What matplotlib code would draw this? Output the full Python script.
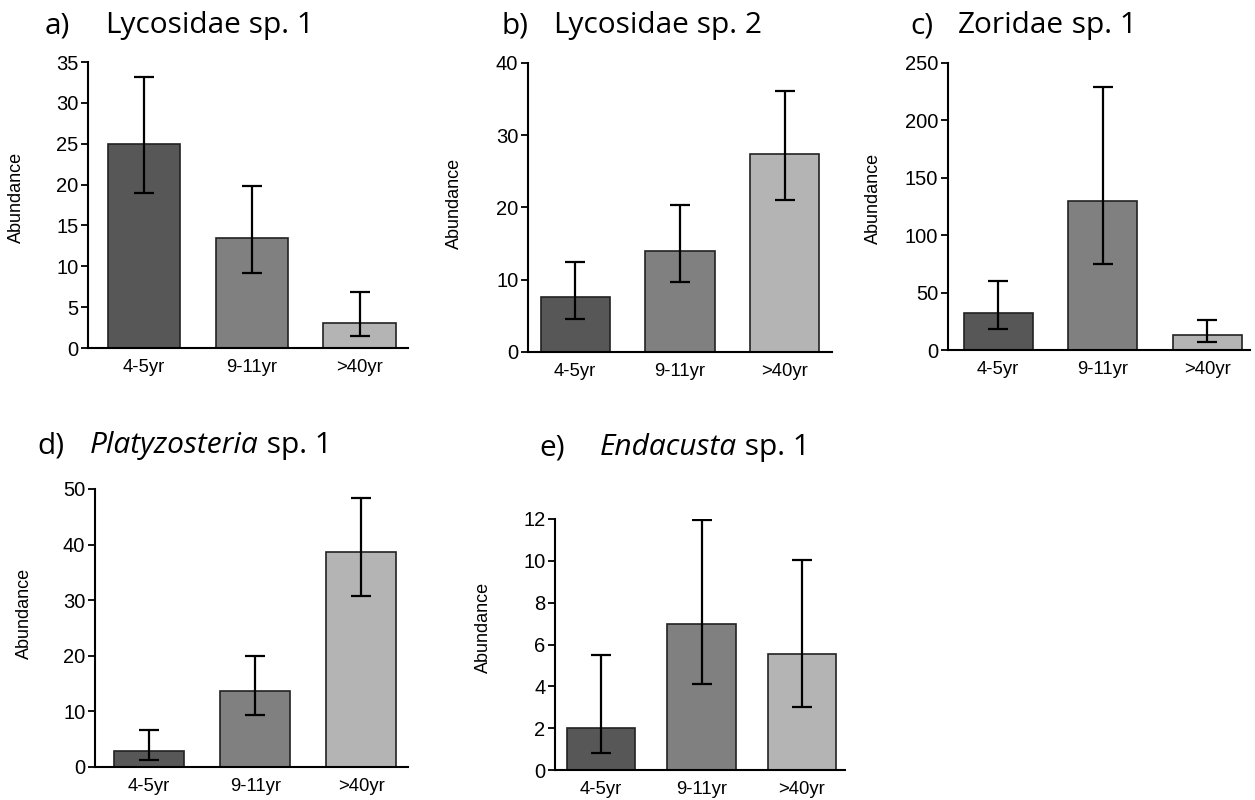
import matplotlib
matplotlib.use("Agg")
import matplotlib.pyplot as plt
import numpy as np

groups = ['4-5yr', '9-11yr', '>40yr']
colors = ['#575757', '#808080', '#b4b4b4']

# means and error bar ends (low, high)
lyc1_mean = [25, 13.5, 3]
lyc1_lo = [19, 9.2, 1.5]
lyc1_hi = [33.2, 19.8, 6.8]

lyc2_mean = [7.6, 14, 27.4]
lyc2_lo = [4.5, 9.7, 21]
lyc2_hi = [12.5, 20.4, 36.1]

zor_mean = [32, 130, 13]
zor_lo = [18, 75, 7]
zor_hi = [60, 229, 26]

plat_mean = [2.8, 13.6, 38.6]
plat_lo = [1.3, 9.3, 30.7]
plat_hi = [6.6, 19.9, 48.4]

enda_mean = [2, 7, 5.55]
enda_lo = [0.8, 4.1, 3.0]
enda_hi = [5.5, 11.95, 10.05]

W, H = 1255, 800
fig = plt.figure(figsize=(W / 100, H / 100), dpi=100)
tick_font = 'Liberation Sans'
title_font = 'Open Sans'


def panel(box, lab_xy, mean, lo, hi, ymax, yticks, xlim, width):
  left, right, bottom, top = box
  ax = fig.add_axes([left / W, 1 - bottom / H, (right - left) / W, (bottom - top) / H])
  x = np.arange(len(groups))
  mean = np.array(mean); lo = np.array(lo); hi = np.array(hi)
  ax.bar(x, mean, width, color=colors, edgecolor='#222222', linewidth=1.2, zorder=2)
  ax.errorbar(x, mean, yerr=[mean - lo, hi - mean], fmt='none', ecolor='black',
              elinewidth=1.6, capsize=7, capthick=1.6, zorder=3)
  ax.set_ylim(0, ymax); ax.set_xlim(*xlim)
  ax.set_yticks(yticks)
  ax.set_xticks(x); ax.set_xticklabels(groups)
  for s in ['top', 'right']:
    ax.spines[s].set_visible(False)
  for s in ['left', 'bottom']:
    ax.spines[s].set_linewidth(1.5)
  ax.tick_params(axis='y', length=5, width=1.3, labelsize=14.5, pad=2)
  ax.tick_params(axis='x', length=0, labelsize=13.3, pad=8)
  for t in ax.get_xticklabels() + ax.get_yticklabels():
    t.set_family(tick_font)
  ax.set_ylabel('Abundance', fontsize=13, family=tick_font)
  # put the y label where it sits in the original (pixel coords)
  lx, ly = lab_xy
  ax.yaxis.set_label_coords((lx - left) / (right - left), (bottom - ly) / (bottom - top))
  return ax


panel((88, 408, 348, 62), (25, 197), lyc1_mean, lyc1_lo, lyc1_hi, 35,
      range(0, 36, 5), (-0.52, 2.45), 0.67)
panel((528, 832, 352, 63), (463, 203), lyc2_mean, lyc2_lo, lyc2_hi, 40,
      range(0, 41, 10), (-0.45, 2.45), 0.66)
panel((948, 1250, 350, 63), (882, 198), zor_mean, zor_lo, zor_hi, 250,
      range(0, 251, 50), (-0.48, 2.41), 0.66)
panel((95, 408, 767, 489), (33, 613), plat_mean, plat_lo, plat_hi, 50,
      range(0, 51, 10), (-0.51, 2.44), 0.66)
panel((555, 845, 770, 519), (492, 627), enda_mean, enda_lo, enda_hi, 12,
      range(0, 13, 2), (-0.46, 2.43), 0.68)

renderer = fig.canvas.get_renderer()


def title(letter, x0, x1, ybase, name, rest, italic=False):
  kw = dict(fontsize=21.5, family=title_font, va='baseline', ha='left')
  fig.text(x0 / W, 1 - ybase / H, letter, **kw)
  t = fig.text(x1 / W, 1 - ybase / H, name, style='italic' if italic else 'normal', **kw)
  bb = t.get_window_extent(renderer)
  fig.text(bb.x1 / W, 1 - ybase / H, rest, **kw)


title('a)', 45, 105, 33, 'Lycosidae', ' sp. 1')
title('b)', 502, 553, 33, 'Lycosidae', ' sp. 2')
title('c)', 910, 958, 33, 'Zoridae', ' sp. 1')
title('d)', 37, 90, 453, 'Platyzosteria', ' sp. 1', italic=True)
title('e)', 539, 600, 455, 'Endacusta', ' sp. 1', italic=True)

fig.savefig('out.png', dpi=100)
